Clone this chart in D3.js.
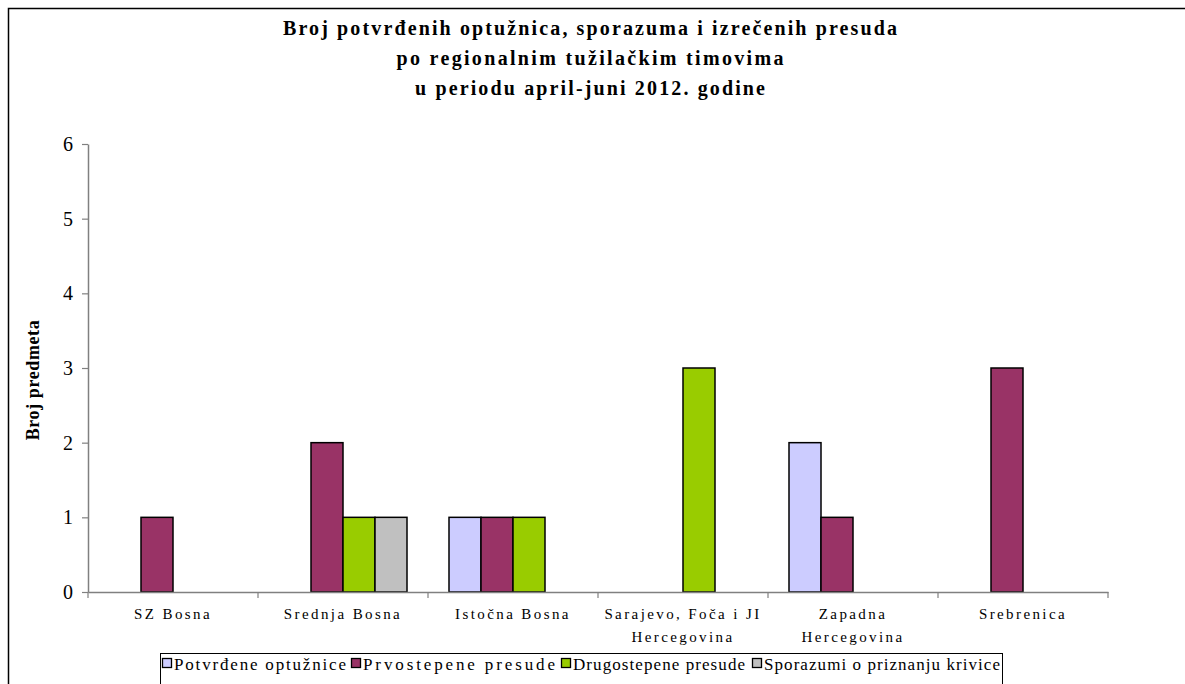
<!DOCTYPE html>
<html><head><meta charset="utf-8">
<script src="https://cdn.jsdelivr.net/npm/d3@7"></script>
<style>
html,body{margin:0;padding:0;background:#fff;}
svg{display:block;}
svg text{font-family:"Liberation Serif";}
</style></head>
<body>
<svg id="chart" width="1185" height="684"></svg>
<script>
const titleLines = ["Broj potvrđenih optužnica, sporazuma i izrečenih presuda","po regionalnim tužilačkim timovima","u periodu april-juni 2012. godine"];
const categories = [["SZ Bosna"],["Srednja Bosna"],["Istočna Bosna"],["Sarajevo, Foča i JI","Hercegovina"],["Zapadna","Hercegovina"],["Srebrenica"]];
const seriesNames = ["Potvrđene optužnice","Prvostepene presude","Drugostepene presude","Sporazumi o priznanju krivice"];
const seriesColors = ["#CCCCFF","#993366","#99CC00","#C0C0C0"];
const potvrdjene = [0,0,1,0,2,0];
const prvostepene = [1,2,1,0,1,3];
const drugostepene = [0,1,1,3,0,0];
const sporazumi = [0,1,0,0,0,0];
const yTicks = [0,1,2,3,4,5,6];
const yLabel = "Broj predmeta";

const series = [potvrdjene, prvostepene, drugostepene, sporazumi];
const svg = d3.select("#chart");
const serif = "Liberation Serif";

// outer border
svg.append("path").attr("d","M8.5,700 L8.5,8.5 L1200,8.5").attr("fill","none").attr("stroke","#000").attr("stroke-width",1.5);

// title
const titleWidths = [614,387,350];
svg.append("g").selectAll("text").data(titleLines).join("text")
  .attr("x",590).attr("y",(d,i)=>35+i*30)
  .attr("text-anchor","middle").style("font-family",serif).attr("font-weight","bold")
  .attr("font-size",20).attr("fill","#000")
  .attr("textLength",(d,i)=>titleWidths[i]).attr("lengthAdjust","spacing").text(d=>d);

const catKeys = categories.map(c=>c.join(" "));
const x0 = d3.scaleBand().domain(catKeys).range([88,1108]).paddingInner(0).paddingOuter(0);
const x1 = d3.scaleBand().domain(d3.range(seriesNames.length)).range([21,149]);
const y = d3.scaleLinear().domain([0,6]).range([592,144]);

// bars
const groups = svg.append("g").selectAll("g").data(catKeys).join("g")
  .attr("transform",d=>`translate(${x0(d)},0)`);
groups.selectAll("rect").data((d,ci)=>series.map((s,si)=>({si,v:s[ci]})).filter(o=>o.v>0)).join("rect")
  .attr("x",d=>x1(d.si)).attr("width",x1.bandwidth())
  .attr("y",d=>y(d.v)).attr("height",d=>y(0)-y(d.v))
  .attr("fill",d=>seriesColors[d.si]).attr("stroke","#000").attr("stroke-width",1.5);

// y axis
const yAxis = svg.append("g").attr("transform","translate(88,0)")
  .call(d3.axisLeft(y).tickValues(yTicks).tickFormat(d3.format("d")).tickSize(6).tickSizeOuter(0));
yAxis.attr("font-family",null).attr("font-size",null);
yAxis.select(".domain").attr("stroke","#808080").attr("stroke-width",1.5);
yAxis.selectAll(".tick line").attr("stroke","#808080").attr("stroke-width",1.2);
yAxis.selectAll(".tick text").style("font-family",serif).style("font-size","20px").attr("fill","#000").attr("x",-15);

// x axis
const xAxis = svg.append("g").attr("transform","translate(0,592)")
  .call(d3.axisBottom(x0).tickSize(0).tickFormat(""));
xAxis.select(".domain").attr("stroke","#808080").attr("stroke-width",1.5);
xAxis.selectAll(".tick").remove();
const bounds = catKeys.map(k=>x0(k)).concat([x0.range()[1]]);
xAxis.selectAll("line.sep").data(bounds).join("line").attr("class","sep")
  .attr("x1",d=>d).attr("x2",d=>d).attr("y1",0).attr("y2",6)
  .attr("stroke","#808080").attr("stroke-width",1.2);

// category labels
const lab = svg.append("g").selectAll("text").data(categories).join("text")
  .attr("x",(d,i)=>x0(catKeys[i])+x0.bandwidth()/2)
  .attr("text-anchor","middle").style("font-family",serif).attr("font-size",15)
  .attr("letter-spacing",2.4).attr("fill","#000");
lab.selectAll("tspan").data(d=>d).join("tspan")
  .attr("x",function(){return d3.select(this.parentNode).attr("x");})
  .attr("y",(d,i)=>619+i*23).text(d=>d);

// y label
svg.append("text").attr("transform","translate(39,380) rotate(-90)")
  .attr("text-anchor","middle").style("font-family",serif).attr("font-weight","bold")
  .attr("font-size",18).attr("letter-spacing",0.6).attr("fill","#000").text(yLabel);

// legend
svg.append("rect").attr("x",160.5).attr("y",653.5).attr("width",842).attr("height",60)
  .attr("fill","#fff").attr("stroke","#000").attr("stroke-width",1);
const legX = [162,351,561,752];
const legW = [172,192,172,236];
const leg = svg.append("g").selectAll("g").data(seriesNames).join("g")
  .attr("transform",(d,i)=>`translate(${legX[i]},0)`);
leg.append("rect").attr("x",0.5).attr("y",658.5).attr("width",9).attr("height",9)
  .attr("fill",(d,i)=>seriesColors[i]).attr("stroke","#000").attr("stroke-width",1.3);
leg.append("text").attr("x",12).attr("y",670).style("font-family",serif).attr("font-size",17)
  .attr("textLength",(d,i)=>legW[i]).attr("lengthAdjust","spacing").attr("fill","#000").text(d=>d);
</script>
</body></html>
